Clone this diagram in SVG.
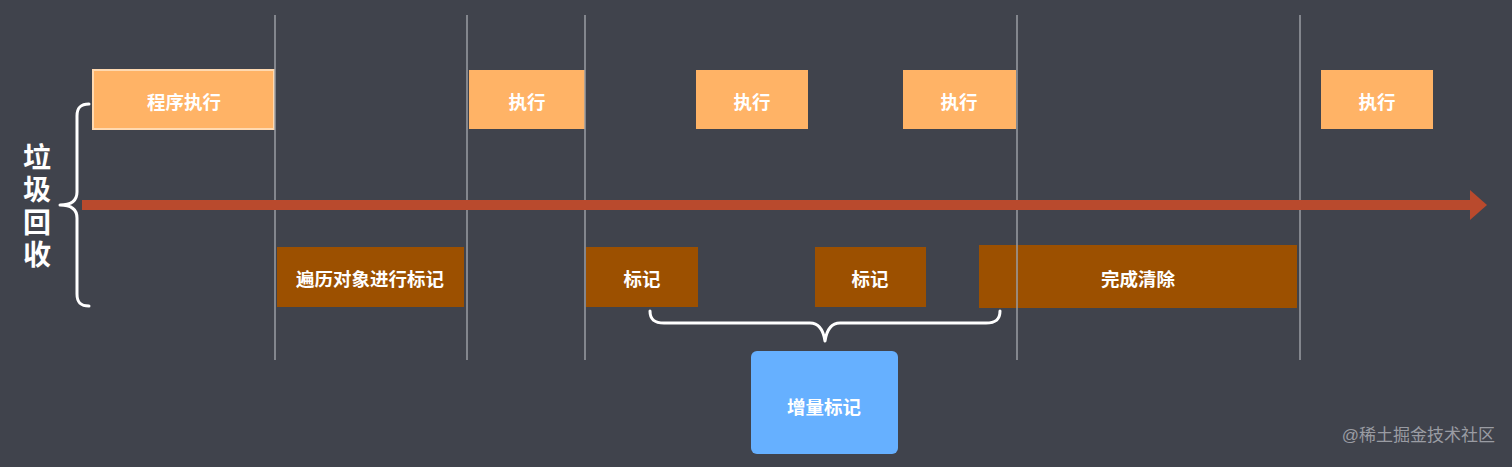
<svg xmlns="http://www.w3.org/2000/svg" width="1512" height="467" viewBox="0 0 1512 467">
<style>
.t{font-family:"Liberation Sans","Noto Sans CJK SC",sans-serif;font-weight:bold;fill:#ffffff;text-anchor:middle;dominant-baseline:central}
.s{font-size:18.5px}
.exec{fill:#ffb366}
.mark{fill:#9c5000}
.vl{stroke:#9a9ca3;stroke-width:1.5}
.br{fill:none;stroke:#ffffff;stroke-width:3;stroke-linecap:round;stroke-linejoin:round}
</style>
<rect width="1512" height="467" fill="#40434c"/>
<g id="exec1"><rect class="exec" x="93" y="70" width="181" height="59" stroke="#ffd9b0" stroke-width="2"/><text class="t s" x="184" y="102">程序执行</text></g>
<g id="exec2"><rect class="exec" x="469" y="70" width="116" height="59"/><text class="t s" x="527" y="102">执行</text></g>
<g id="exec3"><rect class="exec" x="696" y="70" width="112" height="59"/><text class="t s" x="752" y="102">执行</text></g>
<g id="exec4"><rect class="exec" x="903" y="70" width="113" height="59"/><text class="t s" x="959" y="102">执行</text></g>
<g id="exec5"><rect class="exec" x="1321" y="70" width="112" height="59"/><text class="t s" x="1377" y="102">执行</text></g>
<g id="mark1"><rect class="mark" x="277" y="247" width="187" height="60"/><text class="t s" x="370" y="279">遍历对象进行标记</text></g>
<g id="mark2"><rect class="mark" x="586" y="247" width="112" height="60"/><text class="t s" x="642" y="279">标记</text></g>
<g id="mark3"><rect class="mark" x="815" y="247" width="111" height="60"/><text class="t s" x="870" y="279">标记</text></g>
<g id="clean"><rect class="mark" x="979" y="245" width="318" height="63"/><text class="t s" x="1138" y="279">完成清除</text></g>
<g id="incr"><rect x="751" y="351" width="147" height="103" rx="6" fill="#66b0ff"/><text class="t s" x="824" y="407">增量标记</text></g>
<g id="connectors">
<line class="vl" x1="275" y1="15" x2="275" y2="360"/>
<line class="vl" x1="467" y1="15" x2="467" y2="360"/>
<line class="vl" x1="585" y1="15" x2="585" y2="360"/>
<line class="vl" x1="1017" y1="15" x2="1017" y2="360"/>
<line class="vl" x1="1300" y1="15" x2="1300" y2="360"/>
<rect x="82" y="200" width="1390" height="10" fill="#b94a2d"/>
<polygon points="1470,190 1487,205 1470,220" fill="#b94a2d"/>
<path class="br" d="M89,104 C80,104 77,108 77,116 L77,192 C77,200 72,205 60,205 C72,205 77,210 77,218 L77,294 C77,302 80,306 89,306"/>
<path class="br" d="M650,311 C650,320 655,323 664,323 L810,323 C818,323 823,328 825,341 C827,328 832,323 840,323 L986,323 C995,323 1000,320 1000,311"/>
</g>
<g id="title">
<text class="t" style="font-size:28px" x="37" y="158">垃</text>
<text class="t" style="font-size:28px" x="37" y="190">圾</text>
<text class="t" style="font-size:28px" x="37" y="223">回</text>
<text class="t" style="font-size:28px" x="37" y="255">收</text>
</g>
<text x="1495" y="441" text-anchor="end" font-family="Liberation Sans,Noto Sans CJK SC,sans-serif" font-size="17" fill="#9a9ca3">@稀土掘金技术社区</text>
</svg>
